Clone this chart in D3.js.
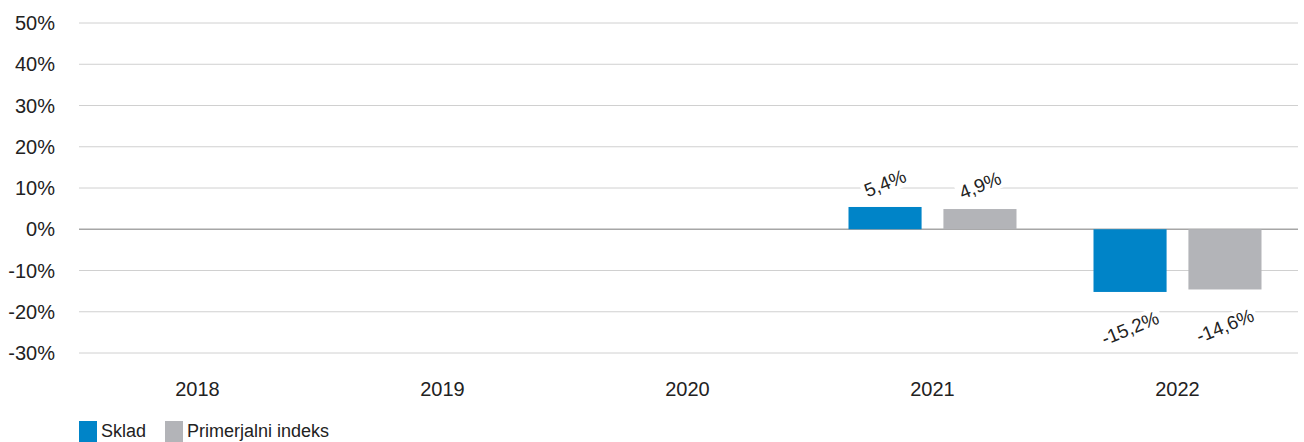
<!DOCTYPE html>
<html>
<head>
<meta charset="utf-8">
<script src="https://cdn.jsdelivr.net/npm/d3@7"></script>
<style>
  body { margin: 0; background: #fff; }
  svg { font-family: "Liberation Sans", Arial, sans-serif; }
</style>
</head>
<body>
<svg id="chart" width="1304" height="442"></svg>
<script>
// data
var years = ["2018", "2019", "2020", "2021", "2022"];
var series = ["Sklad", "Primerjalni indeks"];
var skladValues = [null, null, null, 5.4, -15.2];
var indeksValues = [null, null, null, 4.9, -14.6];
var yTicks = [50, 40, 30, 20, 10, 0, -10, -20, -30];
var colors = ["#0084c8", "#b3b4b8"];

var svg = d3.select("#chart");

var x = d3.scaleBand().domain(years).range([75, 1300]);
var y = d3.scaleLinear().domain([-30, 50]).range([353, 23]);
var xInner = d3.scaleBand().domain(series)
	.range([38.5, x.bandwidth() - 38.5])
	.paddingInner(0.23);

// gridlines
svg.append("g").selectAll("line")
	.data(yTicks)
	.enter().append("line")
	.attr("x1", 79).attr("x2", 1298)
	.attr("y1", function (d) { return y(d); })
	.attr("y2", function (d) { return y(d); })
	.attr("stroke", function (d) { return d == 0 ? "#a6a6a6" : "#d0d0d0"; })
	.attr("stroke-width", function (d) { return d == 0 ? 1.5 : 1; });

// y axis labels
svg.append("g").selectAll("text")
	.data(yTicks)
	.enter().append("text")
	.attr("x", 55)
	.attr("y", function (d) { return y(d); })
	.attr("dy", "0.36em")
	.attr("text-anchor", "end")
	.attr("font-size", 20)
	.attr("fill", "#222")
	.text(function (d) { return d + "%"; });

// x labels
svg.append("g").selectAll("text")
	.data(years)
	.enter().append("text")
	.attr("x", function (d) { return x(d) + x.bandwidth() / 2; })
	.attr("y", 396)
	.attr("text-anchor", "middle")
	.attr("font-size", 20)
	.attr("fill", "#222")
	.text(function (d) { return d; });

var rows = [];
years.forEach(function (yr, i) {
	[skladValues, indeksValues].forEach(function (vals, j) {
		if (vals[i] != null) rows.push({ year: yr, s: series[j], v: vals[i], c: colors[j] });
	});
});

// bars
svg.append("g").selectAll("rect")
	.data(rows)
	.enter().append("rect")
	.attr("x", function (d) { return x(d.year) + xInner(d.s); })
	.attr("width", xInner.bandwidth())
	.attr("y", function (d) { return y(Math.max(0, d.v)); })
	.attr("height", function (d) { return Math.abs(y(d.v) - y(0)); })
	.attr("fill", function (d) { return d.c; });

// rotated data labels with white background
var lab = svg.append("g").selectAll("g")
	.data(rows)
	.enter().append("g")
	.attr("transform", function (d) {
		var cx = x(d.year) + xInner(d.s) + xInner.bandwidth() / 2;
		var cy = d.v >= 0 ? y(d.v) - 24 : y(d.v) + 36;
		return "translate(" + cx + "," + cy + ") rotate(-22)";
	});

lab.append("rect").attr("fill", "#fff");
lab.append("text")
	.attr("text-anchor", "middle")
	.attr("dy", "0.36em")
	.attr("font-size", 19)
	.attr("fill", "#222")
	.text(function (d) { return String(d.v).replace(".", ",") + "%"; });

lab.each(function () {
	var g = d3.select(this);
	var b = g.select("text").node().getBBox();
	g.select("rect")
		.attr("x", b.x - 3).attr("y", b.y)
		.attr("width", b.width + 6).attr("height", b.height);
});

// legend
var leg = svg.append("g").attr("transform", "translate(79,421)");
var legX = [0, 86];
series.forEach(function (s, i) {
	leg.append("rect")
		.attr("x", legX[i]).attr("y", 0)
		.attr("width", 18).attr("height", 21)
		.attr("fill", colors[i]);
	leg.append("text")
		.attr("x", legX[i] + 22).attr("y", 16)
		.attr("font-size", 18)
		.attr("fill", "#222")
		.text(s);
});
</script>
</body>
</html>
